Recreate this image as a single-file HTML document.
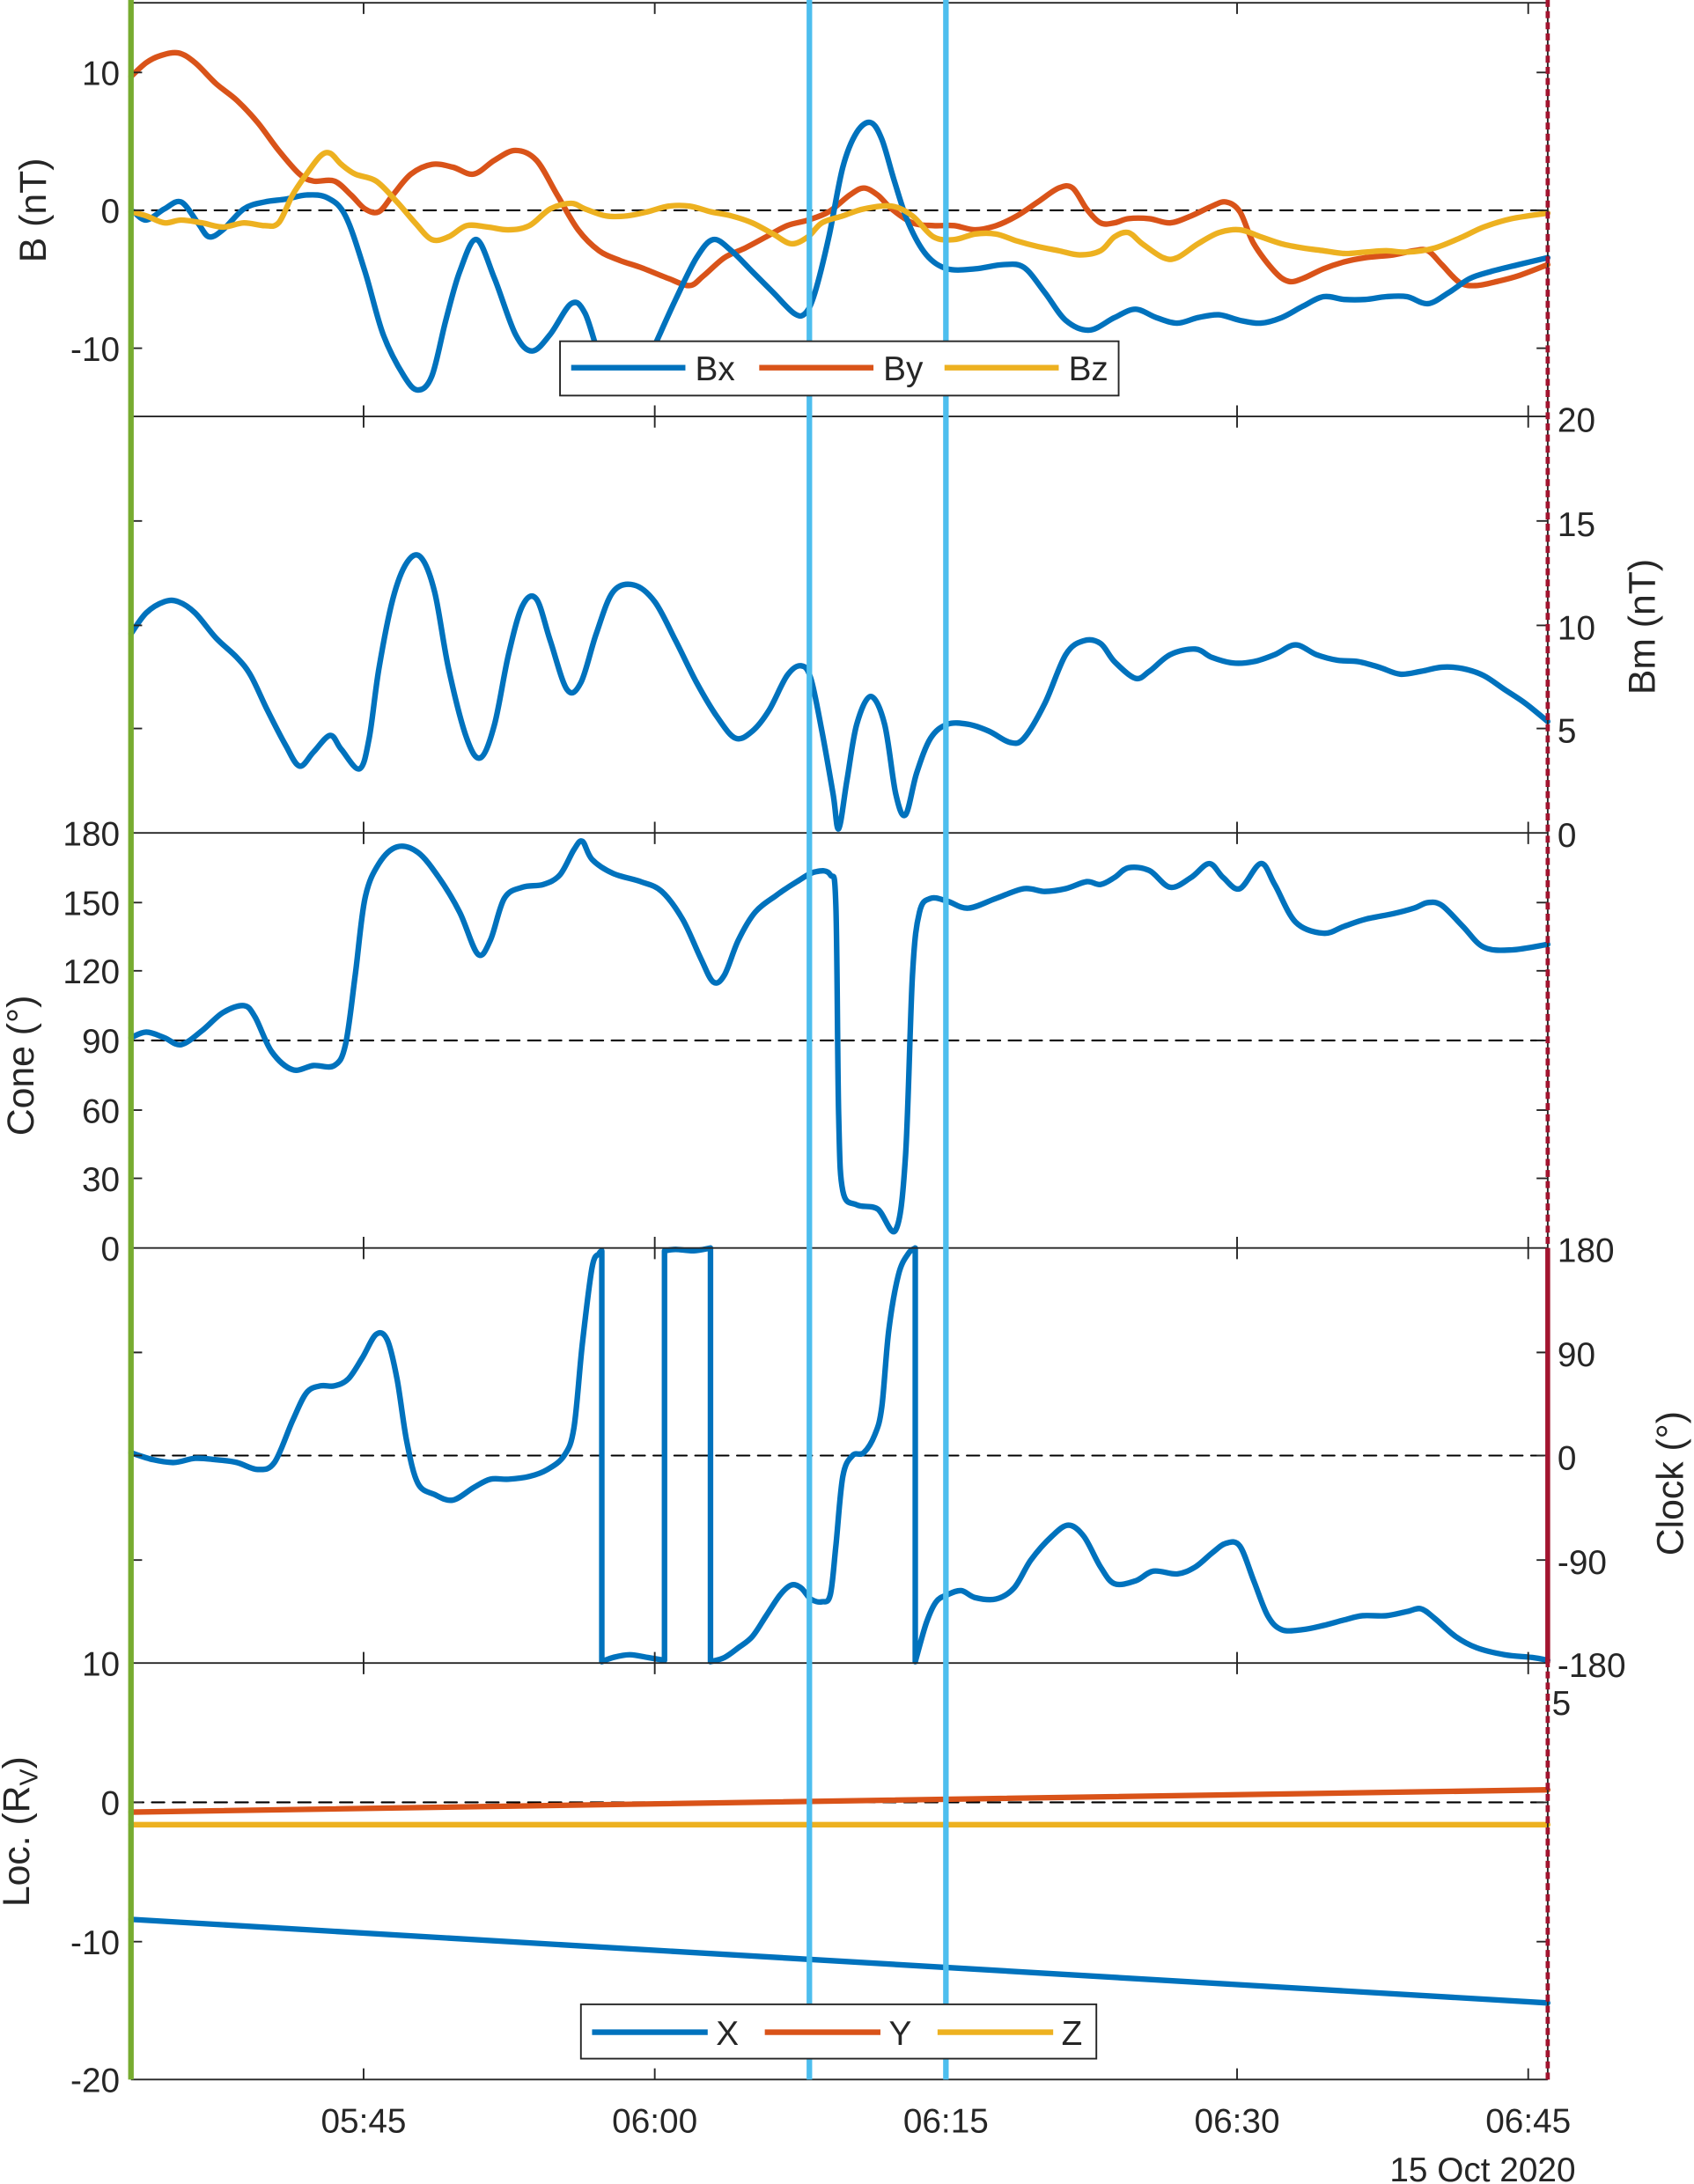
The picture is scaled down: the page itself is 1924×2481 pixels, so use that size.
<!DOCTYPE html>
<html><head><meta charset="utf-8"><style>html,body{margin:0;padding:0;background:#fff}svg{display:block}text{font-family:"Liberation Sans",sans-serif;fill:#262626;font-size:24.5px}.t{font-size:27px}</style></head><body>
<svg id="s" width="1924" height="2481" viewBox="0 0 1216 1568" preserveAspectRatio="none" xmlns="http://www.w3.org/2000/svg">
<rect width="1216" height="1568" fill="#fff"/>
<g fill="none" stroke-linejoin="round" stroke-linecap="round">
<g stroke="#000" stroke-width="1.3" stroke-dasharray="9,6">
<line x1="94" y1="151" x2="1111" y2="151"/><line x1="94" y1="747" x2="1111" y2="747"/>
<line x1="94" y1="1045" x2="1111" y2="1045"/><line x1="94" y1="1294" x2="1111" y2="1294"/>
</g>
<polyline class="sm" stroke="#D95319" stroke-width="4" points="94,55 105,45 115,40 128,38 140,45 155,60 170,72 185,88 200,108 215,125 225,130 240,130 252,140 262,150 272,152 282,140 295,125 310,118 325,120 340,125 355,115 370,108 385,115 400,140 415,165 430,180 445,187 460,192 480,200 495,205 505,198 520,185 535,178 550,170 565,162 580,158 595,152 610,140 620,135 630,140 640,150 655,160 670,162 685,162 700,165 715,162 730,155 745,145 760,135 770,135 780,150 790,160 800,160 810,157 825,157 840,160 855,155 870,148 880,145 890,152 900,175 915,195 925,202 935,200 950,193 965,188 980,185 1000,183 1015,180 1025,180 1035,190 1048,203 1060,205 1075,202 1090,198 1111,190"/>
<polyline class="sm" stroke="#0072BD" stroke-width="4" points="96,152 105,158 118,150 130,145 142,160 150,170 160,165 175,150 190,145 205,143 220,140 235,142 248,155 262,195 275,240 290,270 300,280 310,270 320,230 330,195 342,172 355,200 370,240 382,252 395,240 410,218 420,225 432,260 445,275 460,270 470,248 485,215 500,185 512,172 525,180 540,195 555,210 570,225 578,225 585,210 595,170 605,120 615,95 625,88 633,100 642,130 652,160 665,183 680,193 700,193 720,190 735,192 750,210 765,230 782,237 800,228 815,222 830,228 845,232 860,228 875,226 890,230 905,232 920,228 935,220 950,213 965,215 980,215 995,213 1010,213 1025,218 1040,210 1055,200 1070,195 1090,190 1111,185"/>
<polyline class="sm" stroke="#EDB120" stroke-width="4" points="94,152 105,155 118,160 130,158 145,160 160,163 175,160 190,162 200,160 210,140 220,125 230,112 237,110 245,118 255,125 270,130 285,145 298,160 310,172 322,170 335,162 350,163 365,165 380,162 395,150 410,146 420,150 435,155 450,155 465,152 480,148 495,148 510,152 525,155 540,160 555,168 568,175 580,170 590,160 605,155 620,150 640,148 655,155 670,170 685,172 700,168 715,168 730,173 745,177 760,180 775,183 790,180 800,170 810,167 820,175 835,185 845,185 860,175 875,167 890,165 905,170 920,175 935,178 950,180 965,182 980,181 995,180 1010,181 1030,178 1050,170 1065,163 1085,157 1111,153"/>
<polyline class="sm" stroke="#0072BD" stroke-width="4" points="94,455 105,440 118,432 128,432 140,440 155,458 170,472 180,485 192,510 205,535 215,550 225,540 237,528 245,538 258,552 265,530 272,480 282,430 292,404 302,400 312,425 322,480 335,530 345,544 355,520 365,470 375,435 385,430 395,460 407,495 417,490 428,455 440,425 455,420 470,432 485,460 500,490 515,515 528,530 540,525 552,510 565,485 575,478 582,487 590,525 598,570 602,595 608,560 615,520 625,500 635,520 643,570 650,585 658,555 668,530 680,520 695,520 710,525 725,533 735,530 750,505 765,470 778,460 790,462 800,475 815,487 825,482 840,470 858,466 870,472 885,476 900,475 915,470 930,463 945,470 960,474 975,475 990,479 1005,484 1020,482 1035,479 1050,480 1065,485 1080,495 1095,505 1111,518"/>
<polyline class="sm" stroke="#0072BD" stroke-width="4" points="94,745 105,741 118,745 130,750 145,740 160,727 175,722 183,730 195,755 210,768 225,765 240,765 248,750 255,700 262,645 272,620 285,608 300,612 315,630 330,655 343,685 352,675 362,645 375,637 390,635 402,628 412,610 418,604 425,617 440,627 460,633 475,640 490,660 503,688 512,705 520,700 530,675 542,655 557,643 572,633 585,626 596,628 600,650 602,800 605,855 615,865 630,868 643,883 650,830 655,700 660,655 668,645 680,647 695,652 715,645 735,638 750,640 765,638 780,633 790,635 800,630 810,623 825,625 840,637 855,630 868,620 878,630 890,638 905,620 915,635 930,662 950,670 965,665 980,660 1000,656 1015,652 1025,648 1035,650 1050,665 1065,680 1085,682 1111,678"/>
<polyline class="sm" stroke="#0072BD" stroke-width="4" points="94,1043 110,1048 125,1050 140,1047 155,1048 170,1050 185,1055 197,1050 210,1020 220,1000 230,995 240,995 250,990 260,975 270,958 278,962 285,990 292,1035 300,1065 312,1073 325,1077 340,1068 352,1062 365,1062 380,1060 393,1055 405,1045 412,1025 418,965 425,910 430,900 432,898 432,1193 440,1190 452,1188 465,1190 477,1192 477,898 485,897 498,898 510,896 510,1193 520,1190 530,1183 540,1175 550,1160 560,1145 568,1138 575,1140 582,1148 590,1150 596,1145 600,1110 605,1060 612,1045 620,1043 628,1030 633,1010 638,955 645,915 652,900 657,896 657,1193 665,1165 672,1150 680,1145 690,1142 700,1147 715,1148 728,1140 740,1120 755,1103 767,1095 778,1103 790,1125 800,1137 815,1135 828,1128 845,1130 858,1125 870,1115 880,1108 890,1110 900,1135 910,1160 920,1170 935,1170 950,1167 965,1163 978,1160 995,1160 1010,1157 1020,1155 1030,1162 1045,1175 1060,1183 1080,1188 1100,1190 1111,1192"/>
<line x1="94" y1="1378" x2="1111" y2="1438" stroke="#0072BD" stroke-width="4"/>
<line x1="94" y1="1301" x2="1111" y2="1285" stroke="#D95319" stroke-width="4"/>
<line x1="94" y1="1310" x2="1111" y2="1310" stroke="#EDB120" stroke-width="4"/>
</g>
<g stroke="#262626" stroke-width="1.2" fill="none">
<line x1="94" y1="2" x2="1111" y2="2"/>
<line x1="94" y1="299" x2="1111" y2="299"/><line x1="94" y1="598" x2="1111" y2="598"/>
<line x1="94" y1="896" x2="1111" y2="896"/><line x1="94" y1="1194" x2="1111" y2="1194"/>
<line x1="94" y1="1493" x2="1111" y2="1493"/>
<path d="M261,2v8M470,2v8M679,2v8M888,2v8M1097,2v8
M261,299v-8M470,299v-8M679,299v-8M888,299v-8M1097,299v-8M261,299v8M470,299v8M679,299v8M888,299v8M1097,299v8
M261,598v-8M470,598v-8M679,598v-8M888,598v-8M1097,598v-8M261,598v8M470,598v8M679,598v8M888,598v8M1097,598v8
M261,896v-8M470,896v-8M679,896v-8M888,896v-8M1097,896v-8M261,896v8M470,896v8M679,896v8M888,896v8M1097,896v8
M261,1194v-8M470,1194v-8M679,1194v-8M888,1194v-8M1097,1194v-8M261,1194v8M470,1194v8M679,1194v8M888,1194v8M1097,1194v8
M261,1493v-8M470,1493v-8M679,1493v-8M888,1493v-8M1097,1493v-8
M94,52h8M94,151h8M94,250h8M1111,52h-8M1111,151h-8M1111,250h-8
M94,374h8M94,449h8M94,523h8M1111,374h-8M1111,449h-8M1111,523h-8
M94,648h8M94,697h8M94,747h8M94,797h8M94,846h8M1111,648h-8M1111,697h-8M1111,747h-8M1111,797h-8M1111,846h-8
M94,971h8M94,1045h8M94,1120h8M1111,971h-8M1111,1045h-8M1111,1120h-8
M94,1294h8M94,1394h8M1111,1294h-8M1111,1394h-8"/>
</g>
<line x1="581" y1="0" x2="581" y2="1493" stroke="#4DBEEE" stroke-width="4"/>
<line x1="679" y1="0" x2="679" y2="1493" stroke="#4DBEEE" stroke-width="4"/>
<line x1="94" y1="0" x2="94" y2="1493" stroke="#77AC30" stroke-width="4"/>
<line x1="1111" y1="0" x2="1111" y2="1493" stroke="#262626" stroke-width="1.2"/>
<line x1="1111" y1="0" x2="1111" y2="1493" stroke="#A2142F" stroke-width="3" stroke-dasharray="5,3"/>
<line x1="1111" y1="896" x2="1111" y2="1194" stroke="#A2142F" stroke-width="3.5"/>
<rect x="402" y="245" width="401" height="39" fill="#fff" stroke="#262626" stroke-width="1.2"/>
<g stroke-width="4"><line x1="410" y1="264" x2="492" y2="264" stroke="#0072BD"/><line x1="545" y1="264" x2="627" y2="264" stroke="#D95319"/><line x1="678" y1="264" x2="760" y2="264" stroke="#EDB120"/></g>
<text x="499" y="273">Bx</text><text x="634" y="273">By</text><text x="767" y="273">Bz</text>
<rect x="417" y="1439" width="370" height="39" fill="#fff" stroke="#262626" stroke-width="1.2"/>
<g stroke-width="4"><line x1="425" y1="1459" x2="508" y2="1459" stroke="#0072BD"/><line x1="549" y1="1459" x2="632" y2="1459" stroke="#D95319"/><line x1="673" y1="1459" x2="756" y2="1459" stroke="#EDB120"/></g>
<text x="514" y="1468">X</text><text x="638" y="1468">Y</text><text x="762" y="1468">Z</text>
<g text-anchor="end">
<text x="86" y="61">10</text><text x="86" y="160">0</text><text x="86" y="259">-10</text>
<text x="86" y="607">180</text><text x="86" y="657">150</text><text x="86" y="706">120</text><text x="86" y="756">90</text><text x="86" y="806">60</text><text x="86" y="855">30</text><text x="86" y="905">0</text>
<text x="86" y="1203">10</text>
<text x="86" y="1303">0</text><text x="86" y="1403">-10</text><text x="86" y="1502">-20</text>
</g>
<g>
<text x="1118" y="310">20</text><text x="1118" y="385">15</text><text x="1118" y="459">10</text><text x="1118" y="533">5</text><text x="1118" y="608">0</text>
<text x="1118" y="906">180</text><text x="1118" y="981">90</text><text x="1118" y="1055">0</text><text x="1118" y="1130">-90</text><text x="1118" y="1204">-180</text>
<text x="1114" y="1231">5</text>
</g>
<g text-anchor="middle">
<text x="261" y="1531">05:45</text><text x="470" y="1531">06:00</text><text x="679" y="1531">06:15</text><text x="888" y="1531">06:30</text><text x="1097" y="1531">06:45</text>
</g>
<text x="1131" y="1566" text-anchor="end">15 Oct 2020</text>
<text class="t" transform="translate(33,151) rotate(-90)" text-anchor="middle">B (nT)</text>
<text class="t" transform="translate(24,765) rotate(-90)" text-anchor="middle">Cone (°)</text>
<text class="t" transform="translate(21,1315) rotate(-90)" text-anchor="middle">Loc. (R<tspan font-size="18" dy="6">V</tspan><tspan dy="-6">)</tspan></text>
<text class="t" transform="translate(1188,450) rotate(-90)" text-anchor="middle">Bm (nT)</text>
<text class="t" transform="translate(1208,1065) rotate(-90)" text-anchor="middle">Clock (°)</text>
</svg>
<script>
(function(){
var ns="http://www.w3.org/2000/svg";
document.querySelectorAll("polyline.sm").forEach(function(pl){
 var p=pl.getAttribute("points").trim().split(/\s+/).map(function(s){return s.split(",").map(Number);});
 var d="M"+p[0][0]+","+p[0][1];
 for(var i=0;i<p.length-1;i++){
  var p0=p[i-1]||p[i],p1=p[i],p2=p[i+1],p3=p[i+2]||p2;
  if(p1[0]===p2[0]){d+="L"+p2[0]+","+p2[1];continue;}
  var t=6;
  if(p0[0]===p1[0])p0=p1; if(p2[0]===p3[0])p3=p2;
  var c1=[p1[0]+(p2[0]-p0[0])/t,p1[1]+(p2[1]-p0[1])/t];
  var c2=[p2[0]-(p3[0]-p1[0])/t,p2[1]-(p3[1]-p1[1])/t];
  d+="C"+c1[0]+","+c1[1]+" "+c2[0]+","+c2[1]+" "+p2[0]+","+p2[1];
 }
 var path=document.createElementNS(ns,"path");
 path.setAttribute("d",d);
 path.setAttribute("stroke",pl.getAttribute("stroke"));
 path.setAttribute("stroke-width",pl.getAttribute("stroke-width"));
 pl.parentNode.replaceChild(path,pl);
});
})();
</script>
</body></html>
